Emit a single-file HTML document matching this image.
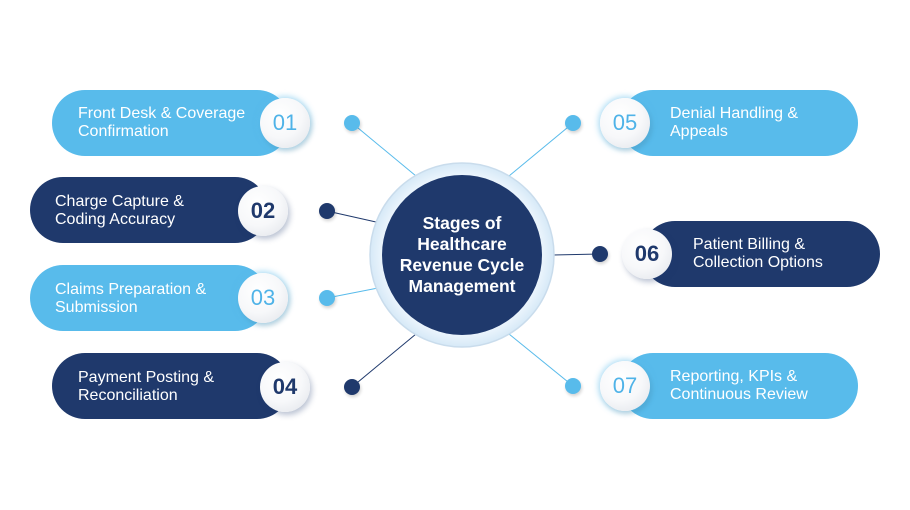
<!DOCTYPE html>
<html><head><meta charset="utf-8"><style>
html,body{margin:0;padding:0;background:#fff;}
#c{position:relative;width:910px;height:510px;overflow:hidden;background:#fff;font-family:"Liberation Sans",Arial,sans-serif;}
.pill{position:absolute;height:66px;border-radius:33px;}
.lt{background:#58bbeb;}
.dk{background:#1f396c;}
.txt{position:absolute;color:#fff;font-size:16px;line-height:18px;white-space:nowrap;}
.num{position:absolute;width:50px;height:50px;border-radius:50%;background:radial-gradient(circle at 40% 35%,#ffffff 0%,#f7f8fa 50%,#dfe2e8 100%);text-align:center;line-height:50px;font-size:22px;}
.num.l{color:#4fb3e8;box-shadow:0 0 6px 2px rgba(88,187,235,0.45),2px 3px 5px rgba(0,0,0,0.12);}
.num.d{color:#1f396c;font-weight:bold;box-shadow:2px 3px 6px rgba(31,57,108,0.3);}
.dot{position:absolute;width:16px;height:16px;border-radius:50%;box-shadow:1px 2px 3px rgba(0,0,0,0.18);}
.dot.l{background:#58bbeb;}
.dot.d{background:#1f396c;}
</style></head><body><div id="c">
<svg width="910" height="510" style="position:absolute;left:0;top:0">
<line x1="352" y1="123" x2="416" y2="176" stroke="#58bbeb" stroke-width="1"/>
<line x1="327" y1="211" x2="376" y2="222" stroke="#1f396c" stroke-width="1"/>
<line x1="327" y1="298" x2="378" y2="288" stroke="#58bbeb" stroke-width="1"/>
<line x1="352" y1="387" x2="416" y2="334" stroke="#1f396c" stroke-width="1"/>
<line x1="573" y1="123" x2="509" y2="176" stroke="#58bbeb" stroke-width="1"/>
<line x1="600" y1="254" x2="553" y2="255" stroke="#1f396c" stroke-width="1"/>
<line x1="573" y1="386" x2="509" y2="334" stroke="#58bbeb" stroke-width="1"/>
<defs><radialGradient id="rg" cx="50%" cy="50%" r="50%"><stop offset="85%" stop-color="#eef6fd"/><stop offset="100%" stop-color="#d6e9f7"/></radialGradient></defs>
<circle cx="462" cy="255" r="92" fill="url(#rg)" stroke="#c9dcec" stroke-width="1.5"/>
<circle cx="462" cy="255" r="80" fill="#1f396c"/>
</svg>
<div style="position:absolute;left:382px;top:213px;width:160px;text-align:center;color:#fff;font-size:17.5px;font-weight:bold;line-height:21px;">Stages of<br>Healthcare<br>Revenue Cycle<br>Management</div>

<div class="pill lt" style="left:52px;top:90px;width:238px;"></div>
<div class="txt" style="left:78px;top:105px;">Front Desk &amp; Coverage<br>Confirmation</div>
<div class="num l" style="left:260px;top:98px;">01</div>
<div class="dot l" style="left:344px;top:115px;"></div>

<div class="pill dk" style="left:30px;top:177px;width:238px;"></div>
<div class="txt" style="left:55px;top:193px;">Charge Capture &amp;<br>Coding Accuracy</div>
<div class="num d" style="left:238px;top:186px;">02</div>
<div class="dot d" style="left:319px;top:203px;"></div>

<div class="pill lt" style="left:30px;top:265px;width:238px;"></div>
<div class="txt" style="left:55px;top:281px;">Claims Preparation &amp;<br>Submission</div>
<div class="num l" style="left:238px;top:273px;">03</div>
<div class="dot l" style="left:319px;top:290px;"></div>

<div class="pill dk" style="left:52px;top:353px;width:238px;"></div>
<div class="txt" style="left:78px;top:369px;">Payment Posting &amp;<br>Reconciliation</div>
<div class="num d" style="left:260px;top:362px;">04</div>
<div class="dot d" style="left:344px;top:379px;"></div>

<div class="pill lt" style="left:620px;top:90px;width:238px;"></div>
<div class="txt" style="left:670px;top:105px;">Denial Handling &amp;<br>Appeals</div>
<div class="num l" style="left:600px;top:98px;">05</div>
<div class="dot l" style="left:565px;top:115px;"></div>

<div class="pill dk" style="left:642px;top:221px;width:238px;"></div>
<div class="txt" style="left:693px;top:236px;">Patient Billing &amp;<br>Collection Options</div>
<div class="num d" style="left:622px;top:229px;">06</div>
<div class="dot d" style="left:592px;top:246px;"></div>

<div class="pill lt" style="left:620px;top:353px;width:238px;"></div>
<div class="txt" style="left:670px;top:368px;">Reporting, KPIs &amp;<br>Continuous Review</div>
<div class="num l" style="left:600px;top:361px;">07</div>
<div class="dot l" style="left:565px;top:378px;"></div>
</div></body></html>
